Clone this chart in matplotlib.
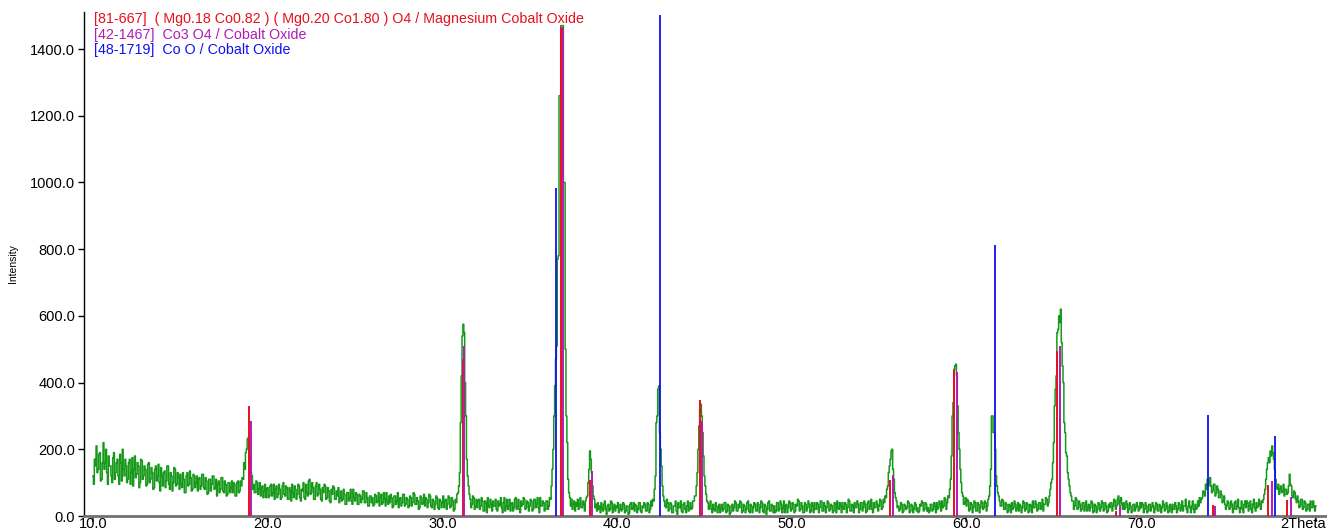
import numpy as np
import matplotlib
matplotlib.use("Agg")
import matplotlib.pyplot as plt
import matplotlib.transforms as mtransforms

plt.rcParams['font.family'] = ['Liberation Sans', 'DejaVu Sans']

# Measured pattern, one row per degree of 2-theta (10..79), step 0.05 inside each row
two_theta_step = 0.05
row_start_deg = list(range(10, 80))
intensity_rows = [
    [120, 95, 170, 150, 210, 130, 140, 185, 190, 105, 110, 160, 220, 140, 160, 200, 130, 95, 180, 150],
    [150, 120, 100, 175, 190, 110, 130, 160, 170, 120, 95, 185, 160, 105, 200, 140, 120, 170, 150, 100],
    [110, 160, 170, 95, 130, 175, 90, 140, 180, 115, 125, 160, 150, 85, 100, 170, 165, 110, 120, 150],
    [140, 90, 95, 155, 160, 100, 110, 145, 130, 80, 85, 140, 150, 105, 120, 155, 100, 75, 145, 120],
    [90, 130, 135, 85, 105, 150, 150, 95, 80, 130, 120, 75, 100, 145, 140, 90, 95, 130, 115, 80],
    [125, 95, 85, 130, 110, 70, 70, 120, 130, 90, 95, 135, 115, 75, 80, 125, 120, 85, 100, 120],
    [75, 110, 115, 80, 90, 125, 125, 85, 80, 115, 105, 65, 70, 110, 110, 75, 95, 120, 120, 80],
    [85, 110, 60, 95, 105, 70, 80, 115, 115, 75, 70, 105, 95, 60, 65, 100, 100, 70, 85, 105],
    [70, 100, 95, 60, 60, 100, 105, 70, 75, 105, 90, 115, 110, 160, 140, 190, 200, 230, 235, 150],
    [180, 130, 120, 80, 95, 70, 70, 105, 100, 65, 80, 100, 60, 85, 90, 55, 75, 95, 55, 80],
    [85, 55, 60, 90, 95, 60, 70, 95, 50, 80, 90, 55, 65, 95, 80, 50, 55, 90, 100, 65],
    [60, 90, 85, 50, 50, 85, 75, 45, 95, 70, 55, 90, 80, 50, 65, 95, 90, 55, 45, 80],
    [75, 100, 55, 50, 95, 70, 60, 105, 110, 65, 70, 100, 85, 50, 50, 90, 100, 60, 65, 95],
    [80, 50, 45, 85, 70, 95, 90, 50, 55, 85, 75, 45, 40, 80, 65, 90, 85, 50, 50, 75],
    [60, 85, 40, 55, 75, 45, 50, 80, 65, 35, 35, 70, 70, 45, 55, 80, 45, 35, 80, 55],
    [45, 70, 65, 35, 35, 65, 60, 40, 50, 75, 75, 40, 40, 70, 55, 30, 30, 60, 60, 40],
    [55, 30, 35, 65, 60, 40, 45, 70, 30, 55, 65, 35, 40, 70, 50, 30, 70, 45, 35, 60],
    [40, 65, 55, 25, 30, 60, 60, 35, 45, 70, 25, 50, 55, 30, 40, 65, 65, 30, 35, 55],
    [50, 25, 30, 60, 55, 30, 40, 70, 65, 35, 35, 55, 45, 20, 25, 60, 55, 35, 40, 65],
    [30, 55, 50, 25, 40, 65, 60, 30, 25, 50, 45, 20, 35, 60, 55, 25, 20, 50, 45, 25],
    [40, 60, 25, 45, 50, 20, 35, 60, 55, 25, 30, 55, 45, 15, 20, 50, 40, 65, 70, 90],
    [130, 280, 420, 540, 575, 550, 400, 300, 170, 120, 90, 65, 50, 25, 35, 60, 55, 20, 30, 50],
    [25, 45, 50, 20, 30, 55, 45, 15, 15, 45, 40, 10, 55, 30, 25, 50, 35, 15, 45, 30],
    [30, 50, 20, 15, 45, 30, 35, 55, 25, 10, 40, 55, 15, 30, 50, 20, 30, 50, 15, 35],
    [40, 15, 25, 50, 55, 20, 30, 50, 20, 10, 45, 30, 35, 55, 50, 20, 25, 45, 40, 15],
    [30, 50, 45, 15, 20, 50, 50, 25, 35, 55, 25, 10, 55, 30, 30, 45, 40, 15, 20, 45],
    [45, 20, 30, 55, 50, 90, 140, 200, 300, 390, 470, 510, 770, 780, 1260, 1260, 1470, 1470, 1470, 1000],
    [1000, 500, 300, 220, 110, 70, 55, 30, 50, 20, 35, 45, 15, 40, 30, 50, 20, 35, 55, 25],
    [25, 45, 35, 15, 45, 55, 60, 100, 140, 195, 170, 130, 90, 60, 50, 25, 35, 15, 40, 20],
    [30, 10, 40, 25, 15, 35, 45, 20, 5, 30, 35, 15, 20, 45, 40, 10, 25, 35, 15, 30],
    [25, 40, 10, 20, 35, 15, 20, 40, 35, 10, 15, 30, 30, 5, 10, 35, 40, 20, 25, 40],
    [15, 35, 30, 10, 20, 40, 40, 15, 10, 30, 25, 40, 35, 15, 15, 40, 35, 10, 20, 45],
    [30, 50, 45, 80, 120, 280, 300, 380, 390, 250, 200, 150, 90, 60, 45, 30, 25, 50, 40, 15],
    [20, 40, 35, 10, 10, 30, 30, 45, 15, 5, 40, 25, 25, 45, 15, 10, 35, 40, 20, 10],
    [30, 45, 15, 25, 40, 20, 25, 45, 45, 60, 60, 90, 130, 200, 270, 320, 335, 300, 250, 180],
    [120, 90, 65, 45, 40, 20, 30, 45, 20, 10, 35, 20, 15, 40, 30, 10, 25, 35, 10, 25],
    [35, 15, 20, 40, 40, 10, 15, 35, 30, 5, 10, 30, 35, 15, 25, 45, 40, 15, 15, 35],
    [25, 45, 40, 10, 15, 35, 30, 10, 20, 40, 45, 15, 10, 35, 30, 10, 25, 40, 35, 15],
    [15, 40, 35, 10, 25, 45, 40, 15, 10, 35, 30, 5, 20, 40, 45, 15, 15, 35, 30, 10],
    [30, 10, 15, 40, 40, 15, 20, 45, 35, 10, 25, 45, 10, 30, 35, 10, 25, 45, 40, 15],
    [20, 40, 35, 10, 15, 35, 30, 50, 45, 15, 20, 40, 30, 10, 10, 40, 35, 15, 25, 45],
    [35, 10, 15, 40, 30, 10, 40, 20, 20, 40, 35, 10, 25, 45, 45, 15, 15, 40, 30, 10],
    [25, 45, 40, 15, 20, 35, 30, 10, 15, 40, 35, 10, 45, 25, 20, 40, 30, 10, 40, 25],
    [20, 40, 35, 10, 25, 50, 45, 15, 15, 35, 30, 10, 40, 25, 25, 45, 35, 10, 20, 40],
    [40, 15, 25, 45, 35, 10, 15, 40, 45, 20, 30, 50, 20, 10, 40, 25, 25, 45, 35, 15],
    [30, 50, 45, 20, 25, 50, 40, 60, 55, 80, 90, 130, 150, 170, 195, 200, 140, 110, 70, 55],
    [45, 25, 30, 15, 20, 40, 35, 10, 15, 35, 30, 20, 25, 45, 40, 10, 15, 35, 30, 10],
    [20, 40, 35, 15, 25, 10, 15, 35, 30, 45, 40, 15, 20, 40, 35, 15, 25, 10, 15, 35],
    [35, 15, 20, 40, 30, 10, 40, 20, 25, 45, 35, 15, 45, 25, 30, 55, 50, 20, 40, 60],
    [55, 80, 110, 180, 300, 340, 440, 450, 455, 420, 330, 250, 200, 140, 100, 70, 60, 35, 40, 55],
    [30, 50, 45, 15, 20, 40, 35, 10, 25, 45, 40, 15, 15, 40, 35, 10, 25, 45, 40, 20],
    [25, 45, 40, 15, 30, 50, 60, 90, 140, 300, 300, 250, 250, 200, 120, 90, 70, 60, 45, 30],
    [30, 50, 45, 20, 20, 40, 35, 10, 15, 35, 30, 10, 40, 20, 25, 45, 35, 15, 25, 40],
    [15, 35, 30, 10, 25, 45, 40, 15, 20, 40, 35, 10, 15, 35, 30, 10, 45, 25, 25, 45],
    [35, 15, 20, 40, 40, 20, 30, 50, 15, 35, 35, 55, 50, 30, 40, 60, 80, 100, 110, 160],
    [220, 330, 380, 420, 550, 560, 600, 580, 620, 520, 450, 400, 280, 250, 190, 180, 130, 110, 90, 70],
    [60, 45, 45, 20, 30, 55, 50, 20, 25, 45, 35, 15, 20, 40, 40, 15, 30, 45, 15, 25],
    [35, 15, 25, 45, 40, 10, 15, 35, 30, 10, 20, 40, 35, 15, 25, 45, 40, 15, 20, 40],
    [30, 10, 15, 35, 25, 40, 40, 15, 30, 50, 45, 20, 30, 50, 60, 35, 45, 55, 35, 20],
    [40, 20, 25, 45, 35, 10, 20, 40, 30, 10, 15, 35, 35, 15, 25, 40, 30, 15, 20, 40],
    [25, 40, 35, 10, 20, 40, 30, 10, 15, 35, 35, 15, 25, 40, 30, 10, 20, 40, 35, 15],
    [15, 35, 30, 10, 25, 45, 35, 15, 20, 40, 30, 10, 15, 35, 25, 10, 35, 20, 20, 40],
    [30, 10, 20, 40, 35, 15, 25, 45, 15, 30, 30, 50, 20, 10, 30, 45, 25, 10, 30, 45],
    [20, 10, 35, 20, 25, 45, 30, 55, 40, 50, 55, 75, 70, 60, 95, 80, 110, 90, 100, 115],
    [90, 70, 75, 95, 95, 60, 70, 90, 80, 55, 55, 75, 65, 40, 45, 60, 35, 20, 30, 45],
    [40, 20, 25, 45, 35, 10, 20, 40, 45, 20, 30, 50, 25, 10, 25, 45, 20, 10, 35, 45],
    [25, 45, 40, 15, 30, 45, 20, 10, 35, 50, 25, 15, 40, 25, 30, 50, 35, 20, 45, 40],
    [50, 65, 80, 110, 140, 160, 175, 160, 195, 180, 210, 190, 170, 140, 110, 85, 80, 95, 65, 80],
    [90, 70, 75, 95, 60, 80, 80, 65, 70, 90, 125, 95, 90, 60, 55, 75, 70, 50, 40, 60],
    [45, 25, 30, 50, 50, 20, 25, 45, 40, 15, 20, 35, 35, 15, 45, 25, 25, 45, 30, 15],
]
final_two_theta = 80.0
final_intensity = 30

# Reference patterns (stick positions / heights)
ref_labels = [
    "[81-667]  ( Mg0.18 Co0.82 ) ( Mg0.20 Co1.80 ) O4 / Magnesium Cobalt Oxide",
    "[42-1467]  Co3 O4 / Cobalt Oxide",
    "[48-1719]  Co O / Cobalt Oxide",
]
red_pos = [18.93, 31.18, 36.80, 38.47, 44.76, 55.62, 59.28, 65.16, 68.56, 69.74, 74.09, 77.24, 78.33]
red_h = [330, 470, 1466, 108, 348, 108, 438, 495, 16, 4, 33, 93, 48]
mag_pos = [19.03, 31.26, 36.88, 38.56, 44.86, 55.77, 59.45, 65.33, 68.78, 74.25, 77.48, 78.60]
mag_h = [286, 510, 1466, 136, 285, 123, 432, 510, 33, 30, 105, 58]
blue_pos = [36.50, 42.44, 61.63, 73.80, 77.66]
blue_h = [983, 1502, 811, 303, 240]

x_ticks = [10, 20, 30, 40, 50, 60, 70, 80]
x_ticklabels = ["10.0", "20.0", "30.0", "40.0", "50.0", "60.0", "70.0", "2Theta"]
y_ticks = [0, 200, 400, 600, 800, 1000, 1200, 1400]

c_red = "#e8101c"
c_mag = "#b01cb4"
c_blue = "#1010f0"
c_green = "#16991a"

xs, ys_ = [], []
for deg, row in zip(row_start_deg, intensity_rows):
    xs.extend(deg + two_theta_step * np.arange(len(row)))
    ys_.extend(row)
xs.append(final_two_theta)
ys_.append(final_intensity)

W, H = 1327, 530
fig = plt.figure(figsize=(W / 100, H / 100), dpi=100)
ax = fig.add_axes([83.5 / W, 1 - 516 / H, (1326 - 83.5) / W, (516 - 12) / H])

ax.plot(xs, ys_, color=c_green, lw=1.1, drawstyle="steps-mid", zorder=2)

ax.vlines(red_pos, 0, red_h, colors=c_red, lw=1.4, zorder=3)
ax.vlines(mag_pos, 0, mag_h, colors=c_mag, lw=1.4, zorder=3)
ax.vlines(blue_pos, 0, blue_h, colors=c_blue, lw=1.3, zorder=4)

ax.set_xlim(9.456, 80.58)
ax.set_ylim(0, 1511)

ax.set_xticks(x_ticks)
ax.set_xticklabels(x_ticklabels)
ax.set_yticks(y_ticks)
ax.set_yticklabels([f"{v:.1f}" for v in y_ticks])

for s in ["top", "right"]:
    ax.spines[s].set_visible(False)
ax.spines["left"].set_color("black")
ax.spines["left"].set_linewidth(1.0)
ax.spines["bottom"].set_color("#707070")
ax.spines["bottom"].set_linewidth(2.0)

ax.tick_params(axis="y", direction="out", length=4, width=1, colors="black", labelsize=10.5, pad=2)
ax.tick_params(axis="x", direction="out", length=4, width=1.5, color="#505050",
               labelcolor="black", labelsize=10.5, pad=-3)

last = ax.get_xticklabels()[-1]
last.set_horizontalalignment("right")
last.set_transform(last.get_transform() + mtransforms.ScaledTranslation(10 / 100, 0, fig.dpi_scale_trans))

ax.set_ylabel("Intensity", fontsize=7.5, labelpad=9)

colors = [c_red, c_mag, c_blue]
ys = [0.986, 0.954, 0.925]
for lab, col, yy in zip(ref_labels, colors, ys):
    ax.text(0.0085, yy, lab, transform=ax.transAxes, color=col, fontsize=10.3,
            va="center", ha="left", zorder=5)

fig.savefig("out.png", dpi=100)
